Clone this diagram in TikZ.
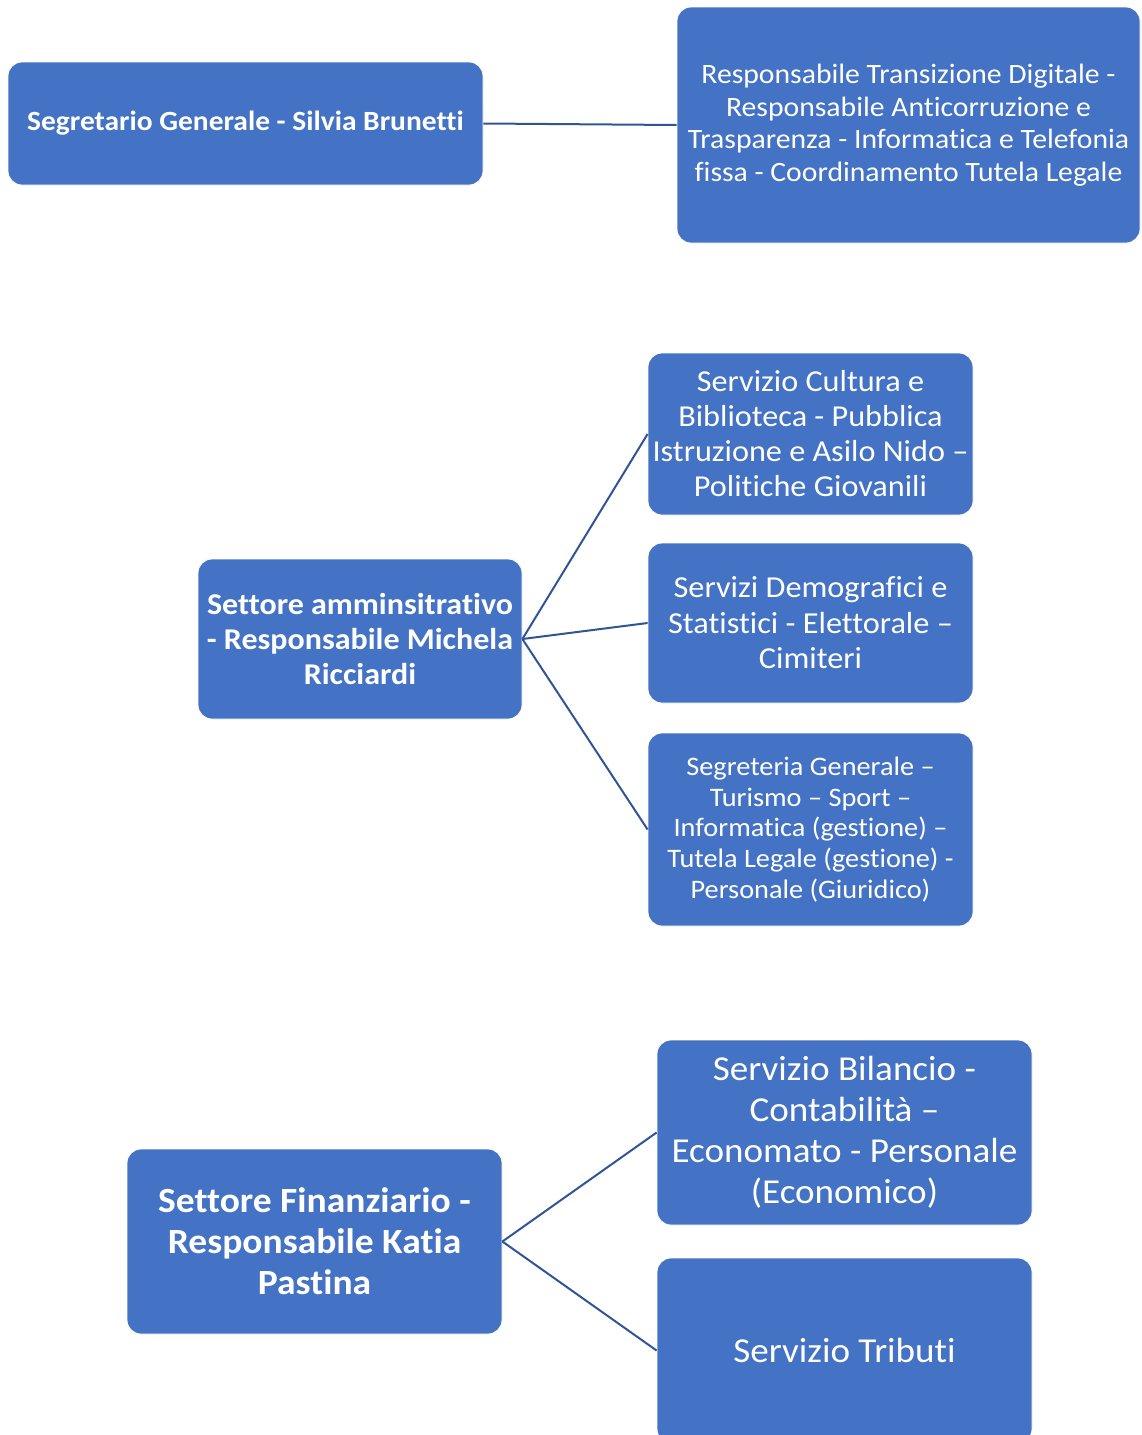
\documentclass[tikz,border=0pt]{standalone}
\usepackage{fontspec}
\setmainfont{Carlito}[FakeStretch=1.06, Ligatures=CommonOff]
\newlength{\du}
\setlength{\du}{1pt}

\begin{document}
\begin{tikzpicture}[
  unit/.style={fill=unitfill, draw=white, line width=0.8\du, rounded corners=14\du,
    text=white, align=center, inner sep=0pt},
  link/.style={draw=linkcolor, line width=2\du}]
\pgftransformxscale{1.000000}
\pgftransformyscale{-1.000000}
\definecolor{unitfill}{rgb}{0.266667, 0.447059, 0.768627}
\definecolor{linkcolor}{rgb}{0.184314, 0.333333, 0.592157}
\useasboundingbox (0\du,0\du) rectangle (1141\du,1435\du);
% segretario e staff
\node[unit, minimum width=475\du, minimum height=123\du, font=\bfseries\fontsize{27.8}{32}\selectfont] (segretario) at (245.5\du,123.5\du){Segretario Generale - Silvia Brunetti};
\node[unit, minimum width=463\du, minimum height=236\du, font=\fontsize{28}{32.5}\selectfont] (transizione) at (908.5\du,125\du){Responsabile Transizione Digitale -\\Responsabile Anticorruzione e\\Trasparenza - Informatica e Telefonia\\fissa - Coordinamento Tutela Legale};
% settore amministrativo
\node[unit, minimum width=324\du, minimum height=160\du, font=\bfseries\fontsize{30.2}{35}\selectfont] (amministrativo) at (360\du,639\du){Settore amminsitrativo\\- Responsabile Michela\\Ricciardi};
\node[unit, minimum width=325\du, minimum height=162\du, font=\fontsize{30.4}{35}\selectfont] (cultura) at (810.5\du,434\du){Servizio Cultura e\\Biblioteca - Pubblica\\Istruzione e Asilo Nido –\\Politiche Giovanili};
\node[unit, minimum width=325\du, minimum height=160\du, font=\fontsize{30.5}{35.5}\selectfont] (demografici) at (810.5\du,623\du){Servizi Demografici e\\Statistici - Elettorale –\\Cimiteri};
\node[unit, minimum width=325\du, minimum height=193\du, font=\fontsize{26.7}{30.75}\selectfont] (segreteria) at (810.5\du,829.5\du){Segreteria Generale –\\Turismo – Sport –\\Informatica (gestione) –\\Tutela Legale (gestione) -\\Personale (Giuridico)};
% settore finanziario
\node[unit, minimum width=375\du, minimum height=185\du, font=\bfseries\fontsize{35.4}{41}\selectfont] (finanziario) at (314.5\du,1241.5\du){Settore Finanziario -\\Responsabile Katia\\Pastina};
\node[unit, minimum width=375\du, minimum height=185\du, font=\fontsize{35}{41}\selectfont] (bilancio) at (844.5\du,1132.5\du){Servizio Bilancio -\\Contabilità –\\Economato - Personale\\(Economico)};
\node[unit, minimum width=375\du, minimum height=185\du, font=\fontsize{35}{41}\selectfont] (tributi) at (844.5\du,1350.5\du){Servizio Tributi};
% collegamenti
\draw[link] (segretario.east) -- (transizione.west);
\draw[link] (amministrativo.east) -- (cultura.west);
\draw[link] (amministrativo.east) -- (demografici.west);
\draw[link] (amministrativo.east) -- (segreteria.west);
\draw[link] (finanziario.east) -- (bilancio.west);
\draw[link] (finanziario.east) -- (tributi.west);
\end{tikzpicture}
\end{document}
